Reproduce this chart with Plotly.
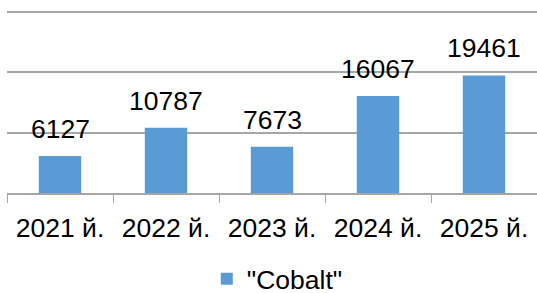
import plotly.graph_objects as go

categories = ["2021 й.", "2022 й.", "2023 й.", "2024 й.", "2025 й."]
values = [6127, 10787, 7673, 16067, 19461]
series_name = '"Cobalt"'
grid_values = [0, 10000, 20000, 30000]

bar_color = "#5B9BD5"
grid_color = "#A6A6A6"
font_family = "Liberation Sans, Arial, sans-serif"
fs = 26.5

fig = go.Figure()
fig.add_trace(go.Bar(
    x=categories, y=values, name=series_name,
    marker=dict(color=bar_color, line=dict(width=0)),
    width=0.4, showlegend=True,
))

for c, v in zip(categories, values):
    fig.add_annotation(x=c, y=v, text=str(v), showarrow=False,
                       yanchor="bottom", yshift=10,
                       font=dict(size=fs, color="#000000", family=font_family))

fig.update_layout(
    width=537, height=293,
    margin=dict(l=7, r=0, t=10, b=100, autoexpand=False),
    paper_bgcolor="white", plot_bgcolor="white",
    font=dict(family=font_family, size=fs, color="#000000"),
    bargap=0.6,
    showlegend=True,
    legend=dict(orientation="h", x=0.51, xanchor="center", y=-0.47, yanchor="middle",
                font=dict(size=fs), itemwidth=30, bgcolor="rgba(0,0,0,0)"),
    xaxis=dict(showline=True, linecolor=grid_color, linewidth=1.5,
               ticks="outside", ticklen=8, tickcolor=grid_color, tickwidth=1,
               tickson="boundaries", showgrid=False, tickfont=dict(size=fs),
               ticklabelstandoff=10, automargin=False),
    yaxis=dict(range=[0, 30300], tickmode="array", tickvals=grid_values,
               showticklabels=False,
               showgrid=True, gridcolor=grid_color, gridwidth=1.5,
               zeroline=False, showline=False, ticks="", automargin=False),
)

fig.write_html("out.html", config={"displayModeBar": False},
               post_script="document.body.style.margin='0';")
